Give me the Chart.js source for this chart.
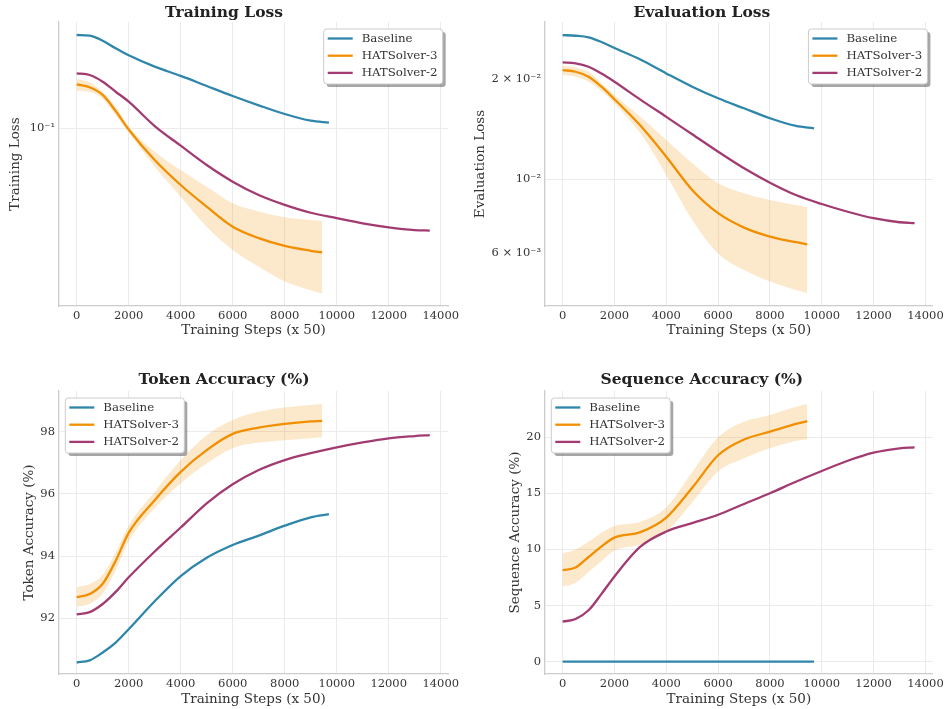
<!DOCTYPE html>
<html>
<head>
<meta charset="utf-8">
<script src="https://cdn.jsdelivr.net/npm/chart.js@4.4.1/dist/chart.umd.min.js"></script>
<style>
  body { margin: 0; background: #fff; }
  #wrap { position: relative; width: 947px; height: 709px; }
  canvas { position: absolute; }
</style>
</head>
<body>
<div id="wrap">
  <canvas id="c1" width="470" height="350" style="left:0;top:0"></canvas>
  <canvas id="c2" width="477" height="350" style="left:470px;top:0"></canvas>
  <canvas id="c3" width="470" height="354" style="left:0;top:355px"></canvas>
  <canvas id="c4" width="477" height="354" style="left:470px;top:355px"></canvas>
</div>
<script>
'use strict'
// steps (x 50) where each run was sampled
let baseSteps = [0, 500, 1000, 1500, 2000, 3000, 4000, 5000, 6000, 7000, 8000, 9000, 9700];
let hat3Steps = [0, 500, 1000, 1500, 2000, 3000, 4000, 5000, 6000, 7000, 8000, 9000, 9440];
let hat2Steps = [0, 500, 1000, 1500, 2000, 3000, 4000, 5000, 6000, 7000, 8000, 9000, 10000, 11000, 12000, 13000, 13580];
let stepTicks = [0, 2000, 4000, 6000, 8000, 10000, 12000, 14000];

let seriesNames = ['Baseline', 'HATSolver-3', 'HATSolver-2'];

// training loss
let baseTrain = [0.2249, 0.2236, 0.2141, 0.2003, 0.1885, 0.1708, 0.1576, 0.1444, 0.1324, 0.1221, 0.1132, 0.1068, 0.1050];
let hat3Train = [0.1466, 0.1428, 0.1336, 0.1162, 0.0990, 0.0759, 0.0611, 0.0506, 0.0425, 0.0385, 0.0360, 0.0345, 0.0340];
let hat3TrainHi = [0.1535, 0.1492, 0.1370, 0.1203, 0.1016, 0.0816, 0.0696, 0.0602, 0.0521, 0.0485, 0.0462, 0.0451, 0.0447];
let hat3TrainLo = [0.1387, 0.1374, 0.1290, 0.1118, 0.0964, 0.0716, 0.0552, 0.0425, 0.0347, 0.0300, 0.0264, 0.0245, 0.0238];
let hat2Train = [0.1612, 0.1589, 0.1499, 0.1374, 0.1260, 0.1020, 0.0860, 0.0727, 0.0629, 0.0560, 0.0514, 0.0480, 0.0458, 0.0438, 0.0423, 0.0413, 0.0411];
let trainTickVals = [0.1];
let trainTickText = ['10⁻¹'];

// evaluation loss
let baseEval = [0.02712, 0.02699, 0.02669, 0.02584, 0.02480, 0.02290, 0.02080, 0.01897, 0.01751, 0.01634, 0.01525, 0.01446, 0.01423];
let hat3Eval = [0.02129, 0.02104, 0.02033, 0.01897, 0.01740, 0.01450, 0.01169, 0.00929, 0.00791, 0.00716, 0.00673, 0.00647, 0.00638];
let hat3EvalHi = [0.02193, 0.02163, 0.02104, 0.01946, 0.01792, 0.01542, 0.01312, 0.01117, 0.00973, 0.00908, 0.00867, 0.00837, 0.00824];
let hat3EvalLo = [0.02057, 0.02033, 0.01964, 0.01841, 0.01690, 0.01374, 0.01030, 0.00755, 0.00599, 0.00534, 0.00493, 0.00465, 0.00455];
let hat2Eval = [0.02245, 0.02230, 0.02178, 0.02078, 0.01964, 0.01735, 0.01540, 0.01365, 0.01210, 0.01079, 0.00977, 0.00897, 0.00843, 0.00799, 0.00764, 0.00743, 0.00738];
let evalTickVals = [0.006, 0.01, 0.02];
let evalTickText = ['6 × 10⁻³', '10⁻²', '2 × 10⁻²'];

// token accuracy (%)
let baseTok = [90.58, 90.65, 90.90, 91.22, 91.65, 92.55, 93.36, 93.95, 94.36, 94.66, 94.98, 95.25, 95.35];
let hat3Tok = [92.68, 92.78, 93.11, 93.85, 94.75, 95.80, 96.71, 97.41, 97.93, 98.13, 98.25, 98.33, 98.35];
let hat3TokHi = [93.00, 93.10, 93.40, 94.12, 94.98, 96.07, 97.09, 97.89, 98.38, 98.64, 98.78, 98.86, 98.89];
let hat3TokLo = [92.37, 92.47, 92.79, 93.55, 94.48, 95.54, 96.34, 96.98, 97.47, 97.65, 97.73, 97.79, 97.82];
let hat2Tok = [92.13, 92.20, 92.46, 92.85, 93.32, 94.15, 94.92, 95.70, 96.31, 96.77, 97.09, 97.31, 97.50, 97.66, 97.79, 97.86, 97.89];
let tokTickVals = [92, 94, 96, 98];

// sequence accuracy (%)
let baseSeq = [0, 0, 0, 0, 0, 0, 0, 0, 0, 0, 0, 0, 0];
let hat3Seq = [8.15, 8.40, 9.33, 10.28, 11.06, 11.55, 12.85, 15.50, 18.40, 19.80, 20.50, 21.19, 21.45];
let hat3SeqHi = [9.65, 10.00, 10.68, 11.50, 12.10, 12.48, 13.75, 16.90, 20.00, 21.39, 21.99, 22.73, 22.97];
let hat3SeqLo = [6.69, 7.04, 8.00, 8.95, 9.90, 10.45, 11.60, 14.20, 16.95, 18.13, 19.02, 19.67, 19.82];
let hat2Seq = [3.57, 3.80, 4.58, 6.04, 7.60, 10.25, 11.60, 12.35, 13.10, 14.06, 15.01, 16.04, 17.00, 17.91, 18.63, 19.02, 19.11];
let seqTickVals = [0, 5, 10, 15, 20];

let colors = ['#2E86AB', '#F18F01', '#A23B72'];
let bandColor = 'rgba(241,143,1,0.2)';
let gridColor = '#ebebeb';
let spineColor = '#cccccc';
let textColor = '#333333';

Chart.defaults.font.family = "'DejaVu Serif', serif";
Chart.defaults.color = textColor;

function pts(xs, ys){
    return xs.map((x, i) => ({x: x, y: ys[i]}));
}

// legend with the shadowed frame
const legendBox = {
    id: 'legendBox',
    afterDraw(chart, args, opts){
        let ctx = chart.ctx;
        let area = chart.chartArea;
        let items = chart.data.datasets.filter(d => d.inLegend);
        let w = 119, h = 55;
        let x = opts.side === 'left' ? area.left + 6.3 : area.right - 5.3 - w;
        let y = area.top + 7;
        ctx.save();
        ctx.fillStyle = 'rgba(0,0,0,0.35)';
        ctx.beginPath();
        ctx.roundRect(x + 3, y + 3, w, h, 3);
        ctx.fill();
        ctx.fillStyle = '#ffffff';
        ctx.strokeStyle = spineColor;
        ctx.lineWidth = 1;
        ctx.beginPath();
        ctx.roundRect(x, y, w, h, 3);
        ctx.fill();
        ctx.stroke();
        ctx.font = "11.8px 'DejaVu Serif'";
        ctx.textBaseline = 'middle';
        items.forEach((d, i) => {
            let ly = y + 9.5 + 17.2 * i;
            ctx.strokeStyle = d.borderColor;
            ctx.lineWidth = 2.3;
            ctx.beginPath();
            ctx.moveTo(x + 4, ly);
            ctx.lineTo(x + 29, ly);
            ctx.stroke();
            ctx.fillStyle = textColor;
            ctx.fillText(d.label, x + 38, ly);
        });
        ctx.restore();
    }
};

function makePanel(id, p){
    let datasets = [
        {label: seriesNames[0], data: pts(baseSteps, p.base), borderColor: colors[0], inLegend: true},
        {label: seriesNames[1], data: pts(hat3Steps, p.hat3), borderColor: colors[1], inLegend: true},
        {label: seriesNames[2], data: pts(hat2Steps, p.hat2), borderColor: colors[2], inLegend: true},
        {label: 'band hi', data: pts(hat3Steps, p.hi), borderWidth: 0, borderColor: 'transparent', backgroundColor: bandColor, fill: '+1'},
        {label: 'band lo', data: pts(hat3Steps, p.lo), borderWidth: 0, borderColor: 'transparent', fill: false}
    ];
    datasets.forEach(d => {
        d.pointRadius = 0;
        d.cubicInterpolationMode = 'monotone';
        if (d.inLegend) d.borderWidth = 2.3;
    });

    let y = {
        type: p.log ? 'logarithmic' : 'linear',
        min: p.ymin,
        max: p.ymax,
        afterBuildTicks: s => { s.ticks = p.tickVals.map(v => ({value: v})); },
        afterFit: s => { s.width = p.yw; },
        ticks: {
            padding: 4,
            font: {size: 11.5},
            color: textColor,
            callback: v => p.tickText ? p.tickText[p.tickVals.indexOf(v)] : String(v)
        },
        grid: {
            drawTicks: false,
            lineWidth: 1,
            color: c => (p.gridOnly === undefined || (c.tick && c.tick.value === p.gridOnly)) ? gridColor : 'rgba(0,0,0,0)'
        },
        border: {color: spineColor, width: 1.3},
        title: {display: true, text: p.ylabel, font: {size: 13.5}, color: textColor, padding: {top: p.ytp, bottom: 0}}
    };

    new Chart(document.getElementById(id), {
        type: 'line',
        data: {datasets: datasets},
        options: {
            responsive: false,
            animation: false,
            layout: {padding: {left: 0, right: p.padR, top: 0, bottom: 0}},
            scales: {
                x: {
                    type: 'linear',
                    min: -680,
                    max: 14280,
                    afterBuildTicks: s => { s.ticks = stepTicks.map(v => ({value: v})); },
                    afterFit: s => { s.height = p.xh; },
                    ticks: {padding: 3, font: {size: 11.5}, color: textColor, maxRotation: 0, autoSkip: false, callback: v => String(v)},
                    grid: {drawTicks: false, lineWidth: 1, color: gridColor},
                    border: {color: spineColor, width: 1.3},
                    title: {display: true, text: 'Training Steps (x 50)', font: {size: 13.5}, color: textColor, padding: {top: 0, bottom: p.xtb}}
                },
                y: y
            },
            plugins: {
                legend: {display: false},
                tooltip: {enabled: false},
                title: {
                    display: true,
                    text: p.title,
                    color: '#222222',
                    font: {size: 15.5, weight: 'bold'},
                    padding: {top: p.ttp, bottom: p.ttb}
                },
                legendBox: {side: p.legend}
            }
        },
        plugins: [legendBox]
    });
}

makePanel('c1', {
    title: 'Training Loss', ylabel: 'Training Loss', log: true,
    base: baseTrain, hat3: hat3Train, hat2: hat2Train, hi: hat3TrainHi, lo: hat3TrainLo,
    ymin: 0.02135, ymax: 0.2518, tickVals: trainTickVals, tickText: trainTickText, gridOnly: 0.1,
    yw: 59, padR: 22, xh: 44, xtb: 11.2, ytp: 6.9, ttp: 3.2, ttb: 0.2, legend: 'right'
});
makePanel('c2', {
    title: 'Evaluation Loss', ylabel: 'Evaluation Loss', log: true,
    base: baseEval, hat3: hat3Eval, hat2: hat2Eval, hi: hat3EvalHi, lo: hat3EvalLo,
    ymin: 0.004163, ymax: 0.02968, tickVals: evalTickVals, tickText: evalTickText, gridOnly: 0.01,
    yw: 75, padR: 13.3, xh: 44, xtb: 11.2, ytp: 2.6, ttp: 3.2, ttb: 0.2, legend: 'right'
});
makePanel('c3', {
    title: 'Token Accuracy (%)', ylabel: 'Token Accuracy (%)', log: false,
    base: baseTok, hat3: hat3Tok, hat2: hat2Tok, hi: hat3TokHi, lo: hat3TokLo,
    ymin: 90.21, ymax: 99.31, tickVals: tokTickVals,
    yw: 59, padR: 22, xh: 35, xtb: 1.6, ytp: 21.2, ttp: 15.7, ttb: 1.7, legend: 'left'
});
makePanel('c4', {
    title: 'Sequence Accuracy (%)', ylabel: 'Sequence Accuracy (%)', log: false,
    base: baseSeq, hat3: hat3Seq, hat2: hat2Seq, hi: hat3SeqHi, lo: hat3SeqLo,
    ymin: -1.10, ymax: 24.13, tickVals: seqTickVals,
    yw: 75, padR: 13.3, xh: 35, xtb: 1.6, ytp: 36.9, ttp: 15.7, ttb: 1.7, legend: 'left'
});
</script>
</body>
</html>
